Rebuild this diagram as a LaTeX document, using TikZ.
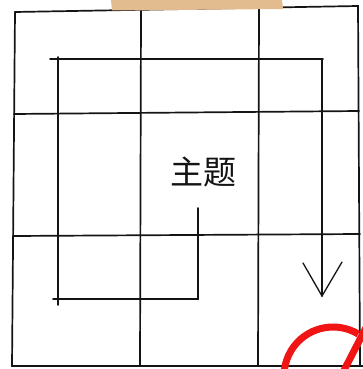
\documentclass[tikz,border=0pt]{standalone}
\usepackage{fontspec}
\newfontfamily\cjk{Noto Sans CJK SC}
\definecolor{tape}{RGB}{226,188,142}
\definecolor{ink}{RGB}{20,20,20}
\definecolor{stamp}{RGB}{240,20,20}
\begin{document}
\begin{tikzpicture}[x=1pt,y=-1pt,
  pen/.style={line width=1.7pt, draw=ink, line cap=round, line join=miter},
  arrowpen/.style={line width=1.3pt, draw=ink, line cap=round, line join=miter},
  redpen/.style={line width=7pt, draw=stamp},
  title/.style={font=\cjk\fontsize{33}{33}\selectfont, text=ink, inner sep=0pt}]
\useasboundingbox (0,0) rectangle (363,369);
\fill[white] (0,0) rectangle (363,369);
\begin{scope}
\clip (0,0) rectangle (363,369);
% outer frame
\coordinate (tl) at (15,12);
\coordinate (tr) at (358,6);
\coordinate (br) at (360,366);
\coordinate (bl) at (12,366);
\draw[pen] (tl) -- (tr) -- (br);
\draw[pen] (tl) -- (bl) -- (365,366);
% grid lines
\draw[pen] (141,11) -- (140,366);
\draw[pen] (259,8) -- (258,366);
\draw[pen] (14,114) -- (359,111);
\draw[pen] (13,236) -- (360,234);
% spiral
\coordinate (s1) at (50,59);
\coordinate (s2) at (323,59);
\draw[pen] (s1) -- (s2);
\draw[pen] (58,57) -- (58,305);
\draw[pen] (53,299) -- (198,299) -- (198,208);
\coordinate (a0) at (322,59);
\coordinate (tip) at (322,296);
\draw[pen] (a0) -- (tip);
\draw[arrowpen] (303,263) -- (tip) -- (342,262);
% red stamp
\draw[redpen] (333,376) ++(-59:49) arc[start angle=-59, end angle=-200, radius=49];
\draw[redpen] (372,316) -- (339,380);
\end{scope}
% tape
\fill[tape] (111,0) -- (282,0) -- (283,9) -- (112,10.5) -- cycle;
% text
\node[title] (t) at (203,172) {主题};
\end{tikzpicture}
\end{document}
